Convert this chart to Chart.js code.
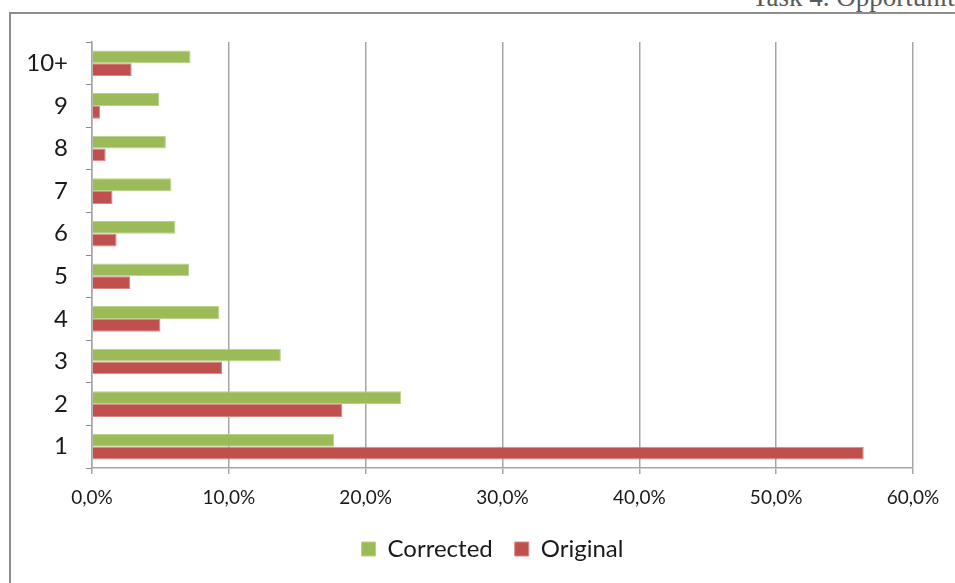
<!DOCTYPE html>
<html>
<head>
<meta charset="utf-8">
<script src="https://cdn.jsdelivr.net/npm/chart.js@4"></script>
<style>
  body { margin: 0; background: #fff; overflow: hidden; }
  #frame { position: absolute; left: 9px; top: 12px; width: 960px; height: 600px; border: 2px solid #8e8e8e; box-sizing: border-box; }
  #header { position: absolute; left: 752px; top: -16px; font: 27px/27px "Liberation Serif", serif; color: #5a5a5a; white-space: nowrap; }
  #chart { position: absolute; left: 0; top: 0; }
</style>
</head>
<body>
<div id="header">Task 4. Opportunities</div>
<div id="frame"></div>
<canvas id="chart" width="955" height="583"></canvas>
<script>
const categories = ['1', '2', '3', '4', '5', '6', '7', '8', '9', '10+'];
const corrected = [0.177, 0.226, 0.138, 0.093, 0.071, 0.061, 0.058, 0.054, 0.049, 0.072];
const original = [0.564, 0.183, 0.095, 0.050, 0.028, 0.018, 0.015, 0.010, 0.006, 0.029];
const xTicks = [0, 0.1, 0.2, 0.3, 0.4, 0.5, 0.6];

const fontFamily = 'Lato, "Open Sans", sans-serif';

// nudge the legend a bit left so it sits where the original one does
const legendShift = {
    id: 'legendShift',
    afterLayout(chart) {
        chart.legend.left -= 10;
        chart.legend.right -= 10;
    }
};

new Chart(document.getElementById('chart'), {
    type: 'bar',
    data: {
        labels: categories,
        datasets: [
            {
                label: 'Corrected',
                data: corrected,
                backgroundColor: '#9bbb59',
                borderColor: '#b9d28a',
                borderWidth: 1,
                categoryPercentage: 0.6,
                barPercentage: 1.0
            },
            {
                label: 'Original',
                data: original,
                backgroundColor: '#c0504d',
                borderColor: '#d68886',
                borderWidth: 1,
                categoryPercentage: 0.6,
                barPercentage: 1.0
            }
        ]
    },
    plugins: [legendShift],
    options: {
        indexAxis: 'y',
        responsive: false,
        animation: false,
        layout: { padding: { left: 0, right: 42, top: 42, bottom: 12 } },
        plugins: {
            legend: {
                position: 'bottom',
                fullSize: false,
                labels: {
                    boxWidth: 14,
                    boxHeight: 14,
                    padding: 22,
                    color: '#1a1a1a',
                    font: { family: fontFamily, size: 24 }
                }
            },
            tooltip: { enabled: false }
        },
        scales: {
            x: {
                min: 0,
                max: 0.6,
                afterBuildTicks: scale => { scale.ticks = xTicks.map(v => ({ value: v })); },
                ticks: {
                    color: '#1a1a1a',
                    padding: 12,
                    font: { family: fontFamily, size: 19 },
                    callback: v => (v * 100).toFixed(1).replace('.', ',') + '%'
                },
                grid: { color: '#a6a6a6', lineWidth: 1.5, tickLength: 6, drawTicks: true },
                border: { color: '#a6a6a6', width: 1.5 },
                afterFit: scale => { scale.height = 47; }
            },
            y: {
                reverse: true,
                ticks: {
                    color: '#1a1a1a',
                    padding: 18,
                    font: { family: fontFamily, size: 24 }
                },
                grid: { drawOnChartArea: false, color: '#8c8c8c', tickLength: 6, offset: true },
                border: { color: '#a6a6a6', width: 1.5 },
                afterFit: scale => { scale.width = 92; }
            }
        }
    }
});
</script>
</body>
</html>
